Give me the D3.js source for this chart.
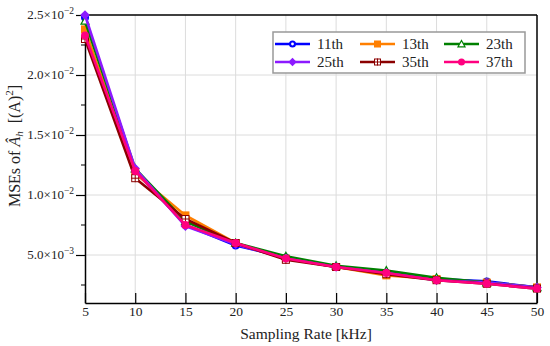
<!DOCTYPE html>
<html>
<head>
<meta charset="utf-8">
<script src="https://cdn.jsdelivr.net/npm/d3@7"></script>
<style>
  body { margin: 0; background: #fff; }
</style>
</head>
<body>
<div id="chart"></div>
<script>
// Data
const rates = [5, 10, 15, 20, 25, 30, 35, 40, 45, 50];
const mse11 = [0.0248, 0.0120, 0.0075, 0.0058, 0.0048, 0.0040, 0.0035, 0.0030, 0.0028, 0.0023];
const mse13 = [0.0238, 0.0118, 0.0083, 0.0060, 0.0047, 0.0040, 0.0033, 0.0030, 0.0027, 0.0023];
const mse23 = [0.0245, 0.0122, 0.0078, 0.0060, 0.0049, 0.0041, 0.0037, 0.0031, 0.0027, 0.0023];
const mse25 = [0.0250, 0.0122, 0.0074, 0.0059, 0.0047, 0.0040, 0.0035, 0.0029, 0.0027, 0.0023];
const mse35 = [0.0230, 0.0114, 0.0080, 0.0060, 0.0046, 0.0040, 0.0034, 0.0029, 0.0026, 0.0022];
const mse37 = [0.0233, 0.0120, 0.0075, 0.0060, 0.0047, 0.0040, 0.0035, 0.0029, 0.0026, 0.0022];
const yTicks = [0.005, 0.010, 0.015, 0.020, 0.025];
const yTickMantissa = ["5.0", "1.0", "1.5", "2.0", "2.5"];
const yTickExp = ["\u22123", "\u22122", "\u22122", "\u22122", "\u22122"];

const series = [
  { name: "11th", values: mse11, color: "#0000ff", marker: "circleOpen" },
  { name: "13th", values: mse13, color: "#ff7f00", marker: "square" },
  { name: "23th", values: mse23, color: "#008000", marker: "triangleOpen" },
  { name: "25th", values: mse25, color: "#8c1aff", marker: "diamond" },
  { name: "35th", values: mse35, color: "#8b0000", marker: "squareCross" },
  { name: "37th", values: mse37, color: "#ff007f", marker: "circle" }
];

const FONT = "Liberation Serif";
const width = 550, height = 346;
const margin = { left: 85, right: 13, top: 15, bottom: 43 };
const innerW = width - margin.left - margin.right;
const innerH = height - margin.top - margin.bottom;

const svg = d3.select("#chart").append("svg")
  .attr("width", width)
  .attr("height", height);

const x = d3.scaleLinear().domain([5, 50]).range([margin.left, margin.left + innerW]);
const y = d3.scaleLinear().domain([0.001, 0.025]).range([margin.top + innerH, margin.top]);

// grid
const grid = svg.append("g").attr("stroke", "#dcdcdc").attr("stroke-width", 1);
grid.selectAll("line.vx").data(rates.slice(1, -1)).join("line")
  .attr("x1", d => x(d)).attr("x2", d => x(d))
  .attr("y1", margin.top).attr("y2", margin.top + innerH);
grid.selectAll("line.hy").data(yTicks.slice(0, -1)).join("line")
  .attr("x1", margin.left).attr("x2", margin.left + innerW)
  .attr("y1", d => y(d)).attr("y2", d => y(d));

// x axis (ticks inward)
const xAxis = svg.append("g")
  .attr("transform", `translate(0,${margin.top + innerH})`)
  .call(d3.axisBottom(x).tickValues(rates).tickSize(-10).tickPadding(3).tickSizeOuter(0));
xAxis.attr("font-family", FONT).attr("font-size", 13.5);
xAxis.select(".domain").attr("stroke-width", 1.5);
xAxis.selectAll(".tick line").attr("stroke-width", 1.2);
xAxis.selectAll("text").attr("font-family", FONT).attr("font-size", 13.5).attr("fill", "#222");

// y axis (ticks outward, with minor ticks)
const yAxis = svg.append("g")
  .attr("transform", `translate(${margin.left},0)`)
  .call(d3.axisLeft(y).tickValues(yTicks).tickSize(9).tickFormat("").tickSizeOuter(0));
yAxis.select(".domain").attr("stroke-width", 1.5);
yAxis.selectAll(".tick line").attr("stroke-width", 1.2);
const minorTicks = yTicks.map(d => d - 0.0025);
yAxis.selectAll("line.minor").data(minorTicks).join("line")
  .attr("class", "minor")
  .attr("x1", -4).attr("x2", 0)
  .attr("y1", d => y(d)).attr("y2", d => y(d))
  .attr("stroke", "#000").attr("stroke-width", 1);

const yLab = svg.append("g").attr("fill", "#222");
yTicks.forEach((v, i) => {
  const t = yLab.append("text")
    .attr("x", margin.left - 11)
    .attr("y", y(v) + 4)
    .attr("font-family", FONT).attr("font-size", 13)
    .attr("text-anchor", "end");
  t.append("tspan").text(yTickMantissa[i] + "\u00d710");
  t.append("tspan").attr("dy", -5).attr("font-size", 9.5).text(yTickExp[i]);
});

// box top/right
svg.append("line").attr("x1", margin.left).attr("x2", margin.left + innerW)
  .attr("y1", margin.top).attr("y2", margin.top).attr("stroke", "#000").attr("stroke-width", 1.5);
svg.append("line").attr("x1", margin.left + innerW).attr("x2", margin.left + innerW)
  .attr("y1", margin.top).attr("y2", margin.top + innerH).attr("stroke", "#000").attr("stroke-width", 1.5);

// axis titles
svg.append("text")
  .attr("x", margin.left + innerW / 2 - 5).attr("y", 339)
  .attr("text-anchor", "middle").attr("font-family", FONT).attr("font-size", 15.5).attr("fill", "#222")
  .text("Sampling Rate [kHz]");

const yt = svg.append("text")
  .attr("transform", `translate(20,146) rotate(-90)`)
  .attr("text-anchor", "middle").attr("font-family", FONT).attr("font-size", 16).attr("fill", "#222");
yt.append("tspan").text("MSEs of ");
yt.append("tspan").attr("font-style", "italic").text("\u00c2");
yt.append("tspan").attr("font-style", "italic").attr("font-size", 11).attr("dy", 3).text("h");
yt.append("tspan").attr("dy", -3).text("\u2002[(A)");
yt.append("tspan").attr("font-size", 11).attr("dy", -7).text("2");
yt.append("tspan").attr("dy", 7).text("]");

// markers
function drawMarker(g, type, color, r) {
  if (type === "circleOpen") {
    g.append("circle").attr("r", r).attr("fill", color);
    g.append("circle").attr("r", r * 0.4).attr("fill", "#fff");
  } else if (type === "circle") {
    g.append("circle").attr("r", r).attr("fill", color);
  } else if (type === "square") {
    g.append("rect").attr("x", -r).attr("y", -r).attr("width", 2 * r).attr("height", 2 * r).attr("fill", color);
  } else if (type === "diamond") {
    g.append("path").attr("d", `M0,${-r * 1.2}L${r * 1.2},0L0,${r * 1.2}L${-r * 1.2},0Z`).attr("fill", color);
  } else if (type === "triangleOpen") {
    g.append("path").attr("d", `M0,${-r}L${r},${r * 0.8}L${-r},${r * 0.8}Z`)
      .attr("fill", "#fff").attr("stroke", color).attr("stroke-width", 1.2);
  } else if (type === "squareCross") {
    g.append("rect").attr("x", -r + 0.5).attr("y", -r + 0.5).attr("width", 2 * r - 1).attr("height", 2 * r - 1)
      .attr("fill", "#fff").attr("stroke", color).attr("stroke-width", 1);
    g.append("path").attr("d", `M0,${-r}V${r}M${-r},0H${r}`).attr("stroke", color).attr("stroke-width", 1);
  }
}

const line = d3.line().x((d, i) => x(rates[i])).y(d => y(d));
const plot = svg.append("g");
series.forEach(s => {
  plot.append("path")
    .attr("d", line(s.values))
    .attr("fill", "none").attr("stroke", s.color).attr("stroke-width", 2.6);
  s.values.forEach((v, i) => {
    const g = plot.append("g").attr("transform", `translate(${x(rates[i])},${y(v)})`);
    drawMarker(g, s.marker, s.color, 4);
  });
});

// legend
const legend = svg.append("g");
legend.append("rect")
  .attr("x", 273).attr("y", 32).attr("width", 252).attr("height", 41)
  .attr("fill", "#fff").attr("stroke", "#999").attr("stroke-width", 1.5);
const colX = [275, 360, 444];
const rowY = [44, 62];
series.forEach((s, i) => {
  const cx = colX[i % 3], cy = rowY[Math.floor(i / 3)];
  const g = legend.append("g").attr("transform", `translate(${cx},${cy})`);
  g.append("line").attr("x1", 0).attr("x2", 35).attr("stroke", s.color).attr("stroke-width", 2.6);
  const m = g.append("g").attr("transform", "translate(17.5,0)");
  drawMarker(m, s.marker, s.color, 3.5);
  g.append("text").attr("x", 42).attr("y", 5).attr("font-family", FONT).attr("font-size", 15).attr("fill", "#222").text(s.name);
});
</script>
</body>
</html>
